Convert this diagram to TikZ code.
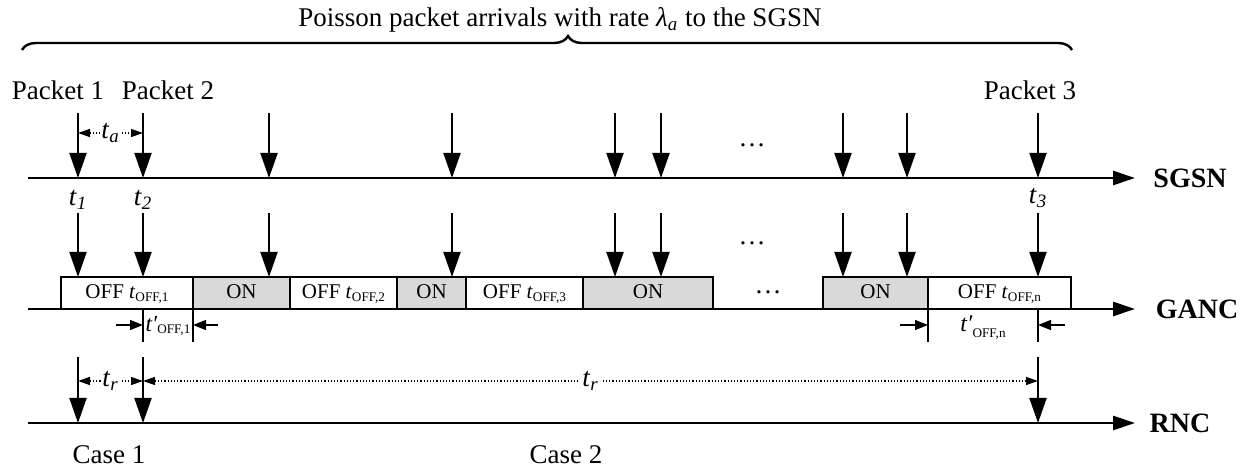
\documentclass[tikz,border=0pt]{standalone}
\usepackage{fontspec}
\setmainfont{Liberation Serif}
\usetikzlibrary{arrows.meta,decorations.pathreplacing}
\definecolor{ongray}{HTML}{D9D9D9}
\newcommand\lowsub[2][-1.3pt]{\raisebox{#1}{\fontsize{6.6}{7}\selectfont #2}}
\newcommand\toff[1]{\textit{t}\lowsub{OFF,#1}}
\newcommand\tpr[2][-1.3pt]{\textit{t′}\lowsub[#1]{OFF,#2}}
\newcommand\tv[1]{\textit{t}\textsubscript{\textit{#1}}}
\tikzset{
 txt/.style={inner sep=1pt,font=\fontsize{13.5}{16}\selectfont},
 axlab/.style={txt,font=\fontsize{14}{16}\selectfont\bfseries},
 axis/.style={line width=1.4pt,-{Triangle[width=7pt,length=11pt]}},
 pkt/.style={line width=1pt,-{Triangle[width=8.5pt,length=12.5pt]}},
 dim/.style={densely dotted,line width=0.6pt,{Triangle[width=4pt,length=6pt]}-{Triangle[width=4pt,length=6pt]}},
 span/.style={line width=0.7pt,-{Triangle[width=5pt,length=6.5pt]}},
 edgeline/.style={line width=0.7pt},
 offbox/.style={draw,line width=1.2pt,fill=white,minimum height=16pt,inner sep=0pt,
   text height=7.3pt,text depth=1.8pt,font=\fontsize{10.5}{12}\selectfont},
 onbox/.style={offbox,fill=ongray},
}
\begin{document}
\begin{tikzpicture}[x=0.5pt,y=-0.5pt]
\useasboundingbox (0,0) rectangle (1247,469);
% title, brace, packets
\node[txt] (title) at (560,20) {Poisson packet arrivals with rate \textit{λ}\textsubscript{\textit{a}} to the SGSN};
\coordinate (bl) at (22,50); \coordinate (br) at (1072,50);
\draw[decorate,decoration={brace,amplitude=7pt,aspect=0.52},line width=1.2pt] (bl) -- (br);
\node[txt] (p1) at (58,90) {Packet 1}; \node[txt] (p2) at (168,90) {Packet 2}; \node[txt] (p3) at (1030,90) {Packet 3};

% the three time axes
\foreach \n/\y/\lab/\lx in {sgsn/178/SGSN/1190, ganc/309/GANC/1197, rnc/423/RNC/1180} {
  \coordinate (\n0) at (28,\y); \coordinate (\n1) at (1135,\y);
  \node[axlab] (\n) at (\lx,\y) {\lab};
  \draw[axis] (\n0) -- (\n1);
}

% ON/OFF periods at the GANC
\foreach \a/\b/\st/\txt [count=\i] in {61/193/offbox/{OFF \toff{1}}, 193/290/onbox/ON, 290/397/offbox/{OFF \toff{2}},
  397/466/onbox/ON, 466/583/offbox/{OFF \toff{3}}, 583/713/onbox/ON, 823/928/onbox/ON, 928/1071/offbox/{OFF \toff{n}}}
  \node[\st,minimum width={(\b-\a)*0.5pt}] (box\i) at ({(\a+\b)/2},293) {\txt};

% arrivals at SGSN and GANC
\foreach \x [count=\i] in {78,143,269,452,615,661,843,907,1038} {
  \coordinate (s\i) at (\x,113); \coordinate (S\i) at (\x,178);
  \coordinate (g\i) at (\x,213); \coordinate (G\i) at (\x,277);
  \draw[pkt] (s\i) -- (S\i); \draw[pkt] (g\i) -- (G\i);
}
\node[txt] (t1) at (78,200) {\tv{1}}; \node[txt] (t2) at (143,200) {\tv{2}}; \node[txt] (t3) at (1038,198) {\tv{3}};
\node[txt] (dots1) at (752,145) {\ldots}; \node[txt] (dots2) at (752,243) {\ldots}; \node[txt] (dots3) at (768,292) {\ldots};

% inter-arrival time
\coordinate (a1) at (78,133); \coordinate (a2) at (143,133);
\draw[dim] (a1) -- node[txt,fill=white,inner sep=0.5pt] (ta) {\tv{a}} (a2);

% residual OFF times
\draw[edgeline] (143,309) -- (143,342); \draw[edgeline] (193,309) -- (193,342);
\draw[edgeline] (928,309) -- (928,342); \draw[edgeline] (1038,309) -- (1038,342);
\coordinate (o1) at (116,325); \coordinate (o2) at (143,325); \coordinate (o3) at (218,325); \coordinate (o4) at (193,325);
\coordinate (o5) at (900,325); \coordinate (o6) at (928,325); \coordinate (o7) at (1065,325); \coordinate (o8) at (1038,325);
\draw[span] (o1) -- (o2); \draw[span] (o3) -- (o4); \draw[span] (o5) -- (o6); \draw[span] (o7) -- (o8);
\node[txt,inner sep=0pt,font=\fontsize{11.5}{14}\selectfont] (tp1) at (168,326) {\tpr{1}};
\node[txt,inner sep=0pt,font=\fontsize{12}{14}\selectfont] (tpn) at (983,328) {\tpr[-3pt]{n}};

% arrivals at the RNC
\foreach \x [count=\i] in {78,143,1038} {
  \coordinate (r\i) at (\x,357); \coordinate (R\i) at (\x,423); \coordinate (d\i) at (\x,381);
  \draw[pkt] (r\i) -- (R\i);
}
\draw[dim] (d1) -- node[txt,fill=white,inner sep=0.5pt] (tr1) {\tv{r}} (d2);
\draw[dim] (d2) -- node[txt,fill=white,inner sep=2pt] (tr2) {\tv{r}} (d3);
\node[txt] (case1) at (109,455) {Case 1}; \node[txt] (case2) at (566,455) {Case 2};
\end{tikzpicture}
\end{document}
